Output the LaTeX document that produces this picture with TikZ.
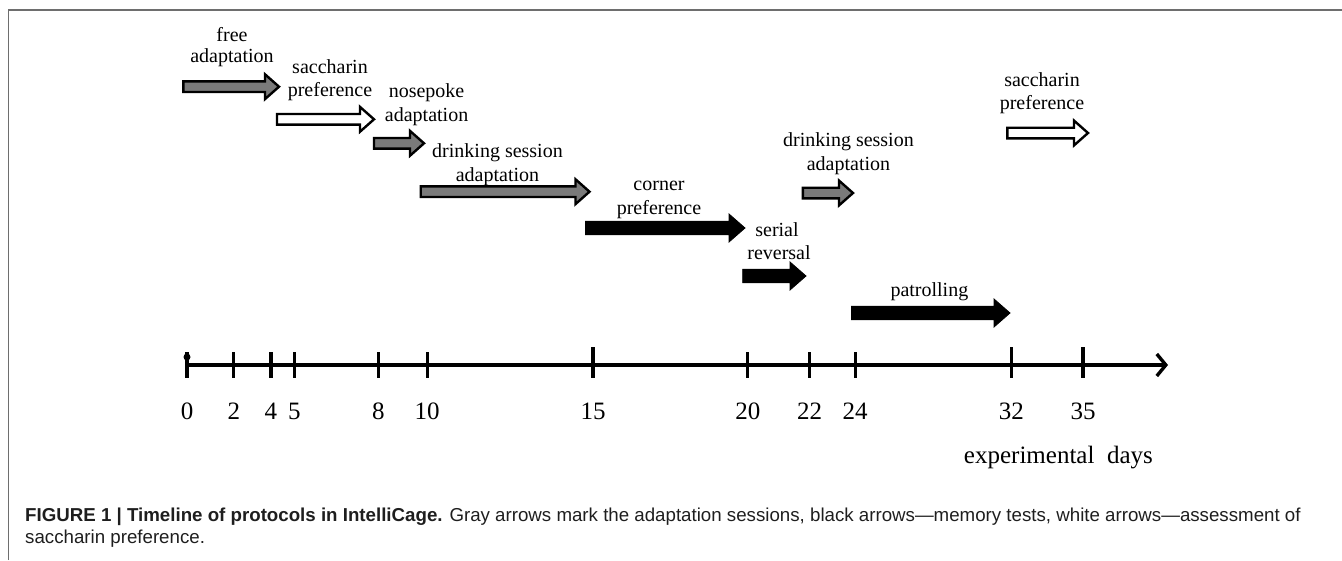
\documentclass[tikz,border=0pt]{standalone}
\usepackage{fontspec}
\setmainfont{Liberation Serif}
\newfontfamily\capfont{Liberation Sans}
\usetikzlibrary{arrows.meta}
\definecolor{arrgray}{HTML}{7A7A7A}
\definecolor{framegray}{HTML}{6E6E6E}
\definecolor{captext}{HTML}{1E1E1E}
\tikzset{
  lbl/.style={font=\fontsize{20}{23}\selectfont, anchor=base, inner sep=0pt},
  num/.style={font=\fontsize{25}{28}\selectfont, anchor=base, inner sep=0pt},
  capstyle/.style={font=\capfont\fontsize{18.7}{22}\selectfont, anchor=base west, inner sep=0pt, text=captext},
  grayarr/.style={draw=black, line width=2.4pt, fill=arrgray, line join=miter},
  whitearr/.style={draw=black, line width=2.4pt, fill=white, line join=miter},
  blackarr/.style={draw=black, line width=0.8pt, fill=black, line join=miter},
  tickmark/.style={line width=3.2pt},
  axisline/.style={line width=3.4pt, -{Straight Barb[length=9pt,width=22pt,line width=3.4pt]}},
  framestyle/.style={draw=framegray, line width=1.5pt},
}
% style, x0, x1, y, body half height, head half height, head length
\newcommand{\blockarr}[7]{%
  \draw[#1] (#2,#4-#5) -- (#3-#7,#4-#5) -- (#3-#7,#4-#6) -- (#3,#4)
     -- (#3-#7,#4+#6) -- (#3-#7,#4+#5) -- (#2,#4+#5) -- cycle;}
\begin{document}
\begin{tikzpicture}[x=1pt,y=-1pt]
\useasboundingbox (0,0) rectangle (1342,560);
% frame
\coordinate (fbl) at (8.5,560);
\coordinate (ftl) at (8.5,10);
\coordinate (ftr) at (1342,10);
\draw[framestyle] (fbl) -- (ftl) -- (ftr);

% protocol arrows
\blockarr{grayarr}{183.3}{279}{86.7}{5.3}{12.4}{14}
\blockarr{whitearr}{277}{374}{119.3}{5.3}{12.4}{14}
\blockarr{grayarr}{374}{424}{143.3}{5.3}{12.4}{14}
\blockarr{grayarr}{420.7}{589.5}{191.7}{5.3}{12.4}{14}
\blockarr{blackarr}{585.4}{745}{228}{6.8}{14}{16}
\blockarr{blackarr}{742.7}{806}{276}{6.8}{14}{16}
\blockarr{grayarr}{802.8}{853}{193}{5.3}{12.4}{14}
\blockarr{blackarr}{851.4}{1010}{313}{6.8}{14}{16}
\blockarr{whitearr}{1007.4}{1088}{133}{5.3}{12.4}{14}

% labels
\node[lbl] (la1) at (232,41.7) {free};
\node[lbl] (la2) at (232,62.3) {adaptation};
\node[lbl] (lb1) at (330,73.3) {saccharin};
\node[lbl] (lb2) at (330,96) {preference};
\node[lbl] (lc1) at (426.6,97.3) {nosepoke};
\node[lbl] (lc2) at (426.6,121.7) {adaptation};
\node[lbl] (ld1) at (497.5,157.3) {drinking session};
\node[lbl] (ld2) at (497.5,181.7) {adaptation};
\node[lbl] (le1) at (659,190.8) {corner};
\node[lbl] (le2) at (659,214.5) {preference};
\node[lbl] (lf1) at (777,236) {serial};
\node[lbl] (lf2) at (779,259.5) {reversal};
\node[lbl] (lg1) at (848.5,146.9) {drinking session};
\node[lbl] (lg2) at (848.5,170.6) {adaptation};
\node[lbl] (lh1) at (929.4,296) {patrolling};
\node[lbl] (li1) at (1042,86) {saccharin};
\node[lbl] (li2) at (1042,109.8) {preference};

% axis
\coordinate (ax0) at (187,365);
\coordinate (axend) at (1168,365);
\draw[axisline] (ax0) -- (axend);
\fill (187,357) circle (3.5);
\foreach \d/\x/\t in {0/187/352, 2/233.8/352, 4/270.9/352, 5/294.4/352, 8/378.3/352,
  10/427.1/352, 15/593/347, 20/747.8/352, 22/809.7/352, 24/855.2/352,
  32/1011.3/347, 35/1083/347} {
  \draw[tickmark] (\x,\t) -- (\x,378);
  \node[num] (n\d) at (\x,419) {\d};
}
\node[num, anchor=base east] (xlab) at (1153,463) {experimental\ \ days};

% caption
\node[capstyle] (cap1) at (25,521.7) {\textbf{FIGURE 1 | Timeline of protocols in IntelliCage.} Gray arrows mark the adaptation sessions, black arrows—memory tests, white arrows—assessment of};
\node[capstyle] (cap2) at (25,543.7) {saccharin preference.};
\end{tikzpicture}
\end{document}
